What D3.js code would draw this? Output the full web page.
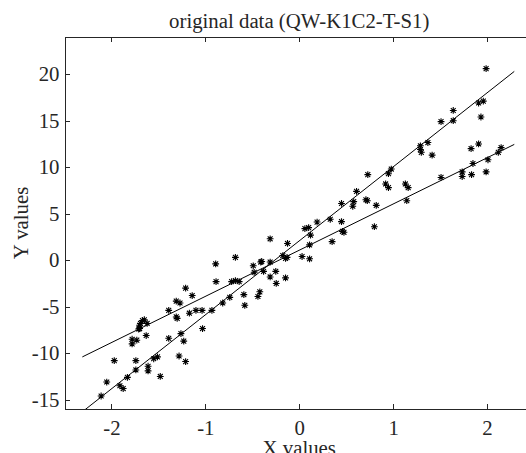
<!DOCTYPE html>
<html lang="en">
<head>
    <meta charset="utf-8">
    <title>original data</title>
    <script src="https://d3js.org/d3.v7.min.js"></script>
    <style>
        html, body {
            margin: 0;
            padding: 0;
            background: white;
        }
        text {
            font-family: "Liberation Serif", "Times New Roman", serif;
            fill: #262626;
        }
        .axis path,
        .axis line {
            fill: none;
            stroke: #262626;
            stroke-width: 1px;
            shape-rendering: crispEdges;
        }
        .axis text {
            font-size: 20.8px;
        }
        path.fit {
            fill: none;
            stroke: black;
            stroke-width: 1px;
        }
        path.star {
            fill: none;
            stroke: black;
            stroke-width: 1.1px;
        }
    </style>
</head>
<body>
<script type="text/javascript">

    // size of the picture
    var w = 526;
    var h = 453;

    // scatter points
    var xs = [-2.11, -2.05, -1.97, -1.91, -1.875, -1.83, -1.78, -1.78, -1.73, -1.74,
              -1.74, -1.70, -1.70, -1.69, -1.65, -1.62, -1.63, -1.61, -1.61, -1.55,
              -1.51, -1.48, -1.39, -1.39, -1.31, -1.31, -1.27, -1.28, -1.26, -1.23,
              -1.21, -1.21, -1.17, -1.14, -1.10, -1.035, -1.03, -0.93, -0.89, -0.886,
              -0.815, -0.74, -0.72, -0.68, -0.64, -0.59, -0.58, -0.49, -0.48, -0.44,
              -0.42, -0.68, -0.41, -1.71, -1.67, -1.30, -0.38, -0.31, -0.31, -0.31,
              -0.25, -0.245, -0.146, -0.125, -0.175, -0.146, -0.13, 0.03, 0.11, 0.06,
              0.10, 0.12, 0.11, 0.19, 0.33, 0.45, 0.35, 0.46, 0.476, 0.45,
              0.57, 0.58, 0.61, 0.73, 0.71, 0.725, 0.82, 0.80, 0.92, 0.95,
              0.95, 0.98, 1.13, 1.16, 1.145, 1.29, 1.30, 1.29, 1.37, 1.415,
              1.51, 1.51, 1.64, 1.64, 1.735, 1.735, 1.83, 1.835, 1.85, 1.91,
              1.91, 1.96, 1.935, 1.99, 2.01, 2.12, 2.15, 1.99, -0.40];
    var ys = [-14.6, -13.1, -10.8, -13.5, -13.8, -12.6, -8.5, -9.0, -8.6, -10.8,
              -11.8, -7.35, -7.0, -6.8, -6.4, -6.8, -8.1, -11.4, -11.9, -10.6,
              -10.4, -12.5, -5.4, -8.4, -4.4, -6.1, -4.6, -10.3, -7.9, -8.7,
              -3.0, -10.9, -5.7, -3.8, -5.4, -5.4, -7.35, -5.4, -0.4, -2.3,
              -4.6, -4.0, -2.3, -2.2, -2.3, -3.7, -4.85, -0.6, -1.3, -3.9,
              -3.4, 0.3, -0.2, -7.4, -6.5, -6.25, -1.2, 2.3, -0.2, -1.8,
              -1.2, -2.5, -1.9, 1.8, 0.5, 0.2, 0.3, 0.4, 0.15, 3.4,
              3.5, 2.7, 1.65, 4.1, 4.4, 4.15, 2.0, 3.1, 3.0, 6.1,
              5.8, 6.3, 7.4, 9.2, 6.5, 6.4, 5.9, 3.6, 8.2, 7.8,
              9.3, 9.8, 8.2, 7.8, 6.4, 11.9, 11.6, 12.3, 12.65, 11.3,
              8.9, 14.9, 16.1, 15.0, 9.5, 9.0, 12.0, 9.2, 10.4, 12.5,
              16.9, 17.1, 15.4, 9.5, 10.8, 11.6, 12.1, 20.6, -0.14];

    // the two fitted lines (end points)
    var fitX = [-2.31, 2.29];
    var steepY = [-16.3, 20.3];
    var flatY = [-10.4, 12.45];

    var xTicks = [-2, -1, 0, 1, 2];
    var yTicks = [-15, -10, -5, 0, 5, 10, 15, 20];

    var titleText = "original data (QW-K1C2-T-S1)";
    var xLabel = "X values";
    var yLabel = "Y values";

    // plot box (window.top is taken, so other names)
    var boxL = 64.5, boxR = 534, boxT = 37, boxB = 409;

    var xScale = d3.scaleLinear().domain([-2.5, 2.5]).range([boxL, boxR]);
    var yScale = d3.scaleLinear().domain([-16, 24]).range([boxB, boxT]);

    var svg = d3.select("body")
        .append("svg")
        .attr("width", w)
        .attr("height", h);

    svg.append("rect").attr("width", w).attr("height", h).attr("fill", "white");

    svg.append("clipPath").attr("id", "plotClip")
        .append("rect")
        .attr("x", boxL).attr("y", boxT)
        .attr("width", boxR - boxL).attr("height", boxB - boxT);

    // axes, ticks point inward like matlab
    var fmt = function(d) { return String(d); };

    svg.append("g")
        .attr("class", "axis")
        .attr("transform", "translate(0," + boxB + ")")
        .call(d3.axisBottom(xScale).tickValues(xTicks).tickFormat(fmt)
            .tickSizeInner(-5).tickSizeOuter(0).tickPadding(11));

    svg.append("g")
        .attr("class", "axis")
        .attr("transform", "translate(0," + boxT + ")")
        .call(d3.axisTop(xScale).tickValues(xTicks).tickFormat("")
            .tickSizeInner(-5).tickSizeOuter(0));

    svg.append("g")
        .attr("class", "axis")
        .attr("transform", "translate(" + boxL + ",0)")
        .call(d3.axisLeft(yScale).tickValues(yTicks).tickFormat(fmt)
            .tickSizeInner(-5).tickSizeOuter(0).tickPadding(5));

    svg.append("g")
        .attr("class", "axis")
        .attr("transform", "translate(" + boxR + ",0)")
        .call(d3.axisRight(yScale).tickValues(yTicks).tickFormat("")
            .tickSizeInner(-5).tickSizeOuter(0));

    // fitted lines
    var line = d3.line()
        .x(function(d) { return xScale(d[0]); })
        .y(function(d) { return yScale(d[1]); });

    var plot = svg.append("g").attr("clip-path", "url(#plotClip)");

    plot.append("path").attr("class", "fit")
        .attr("d", line(d3.zip(fitX, steepY)));
    plot.append("path").attr("class", "fit")
        .attr("d", line(d3.zip(fitX, flatY)));

    // asterisk markers
    var r = 3.4, q = r * 0.72;
    var star = "M0," + (-r) + "V" + r + "M" + (-r) + ",0H" + r +
        "M" + (-q) + "," + (-q) + "L" + q + "," + q +
        "M" + (-q) + "," + q + "L" + q + "," + (-q);

    plot.selectAll("path.star")
        .data(d3.zip(xs, ys))
        .enter()
        .append("path")
        .attr("class", "star")
        .attr("transform", function(d) {
            return "translate(" + xScale(d[0]) + "," + yScale(d[1]) + ")";
        })
        .attr("d", star);

    // texts
    svg.append("text")
        .attr("x", (boxL + boxR) / 2)
        .attr("y", 28)
        .attr("text-anchor", "middle")
        .style("font-size", "20.8px")
        .text(titleText);

    svg.append("text")
        .attr("x", (boxL + boxR) / 2)
        .attr("y", 455)
        .attr("text-anchor", "middle")
        .style("font-size", "20.8px")
        .text(xLabel);

    svg.append("text")
        .attr("transform", "translate(28," + ((boxT + boxB) / 2) + ") rotate(-90)")
        .attr("text-anchor", "middle")
        .style("font-size", "20.8px")
        .text(yLabel);

</script>
</body>
</html>
